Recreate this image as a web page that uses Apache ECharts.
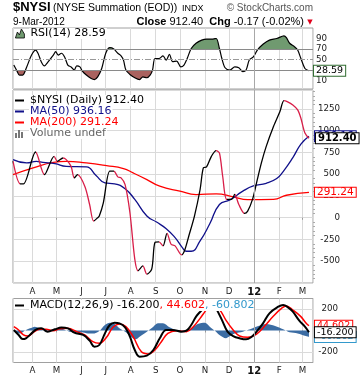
<!DOCTYPE html>
<html><head><meta charset="utf-8">
<script src="https://cdn.jsdelivr.net/npm/echarts@6/dist/echarts.min.js"></script>
<style>html,body{margin:0;padding:0;background:#fff}#c{width:360px;height:381px}</style>
</head><body><div id="c"></div>
<script>
// ---------- DATA ----------
const xStart = '2011-03-08';
const xEnd = '2012-03-14';

const nysiDates = ['2011-03-08','2011-03-17','2011-03-21','2011-04-05','2011-04-16','2011-04-28','2011-05-02','2011-05-09','2011-05-13','2011-05-19','2011-05-23','2011-05-27','2011-06-05','2011-06-11','2011-06-16','2011-06-21','2011-06-23','2011-06-28','2011-07-06','2011-07-11','2011-07-16','2011-07-20','2011-07-25','2011-07-31','2011-08-06','2011-08-10','2011-08-16','2011-08-21','2011-08-27','2011-08-31','2011-09-05','2011-09-10','2011-09-15','2011-09-20','2011-09-25','2011-10-03','2011-10-07','2011-10-12','2011-10-19','2011-10-26','2011-10-30','2011-11-03','2011-11-09','2011-11-15','2011-11-19','2011-11-23','2011-11-28','2011-12-04','2011-12-08','2011-12-13','2011-12-20','2011-12-24','2011-12-30','2012-01-04','2012-01-10','2012-01-16','2012-01-25','2012-02-02','2012-02-07','2012-02-11','2012-02-18','2012-02-24','2012-02-28','2012-03-04','2012-03-09'];
const nysiValues = [650,389,389,755,495,705,648,686,667,590,457,495,362,152,-38,0,19,171,534,534,469,457,381,57,-476,-610,-553,-648,-591,-286,-278,-324,-179,-305,-324,-427,-370,-210,19,324,572,583,705,770,743,476,210,210,267,152,50,76,210,400,629,819,1048,1220,1345,1334,1296,1239,1143,972,912.40];

const ma50Dates = ['2011-03-08','2011-03-25','2011-04-06','2011-04-14','2011-04-29','2011-05-13','2011-06-07','2011-06-19','2011-06-30','2011-07-12','2011-07-25','2011-08-06','2011-08-21','2011-09-02','2011-09-14','2011-09-25','2011-10-04','2011-10-09','2011-10-15','2011-10-26','2011-11-07','2011-11-19','2011-12-02','2011-12-18','2011-12-31','2012-01-16','2012-01-29','2012-02-06','2012-02-18','2012-02-28','2012-03-09'];
const ma50Values = [667,629,648,636,621,590,583,484,400,389,332,210,19,-50,-126,-229,-343,-385,-385,-267,-70,152,205,305,365,395,450,530,690,845,936.16];

const ma200Dates = ['2011-03-08','2011-04-02','2011-04-27','2011-05-13','2011-06-07','2011-07-02','2011-07-23','2011-08-04','2011-08-21','2011-09-06','2011-10-01','2011-10-21','2011-11-15','2011-12-06','2011-12-24','2012-01-25','2012-02-10','2012-03-09'];
const ma200Values = [495,572,636,648,629,598,564,514,438,362,305,266,274,240,208,210,258,291.24];

const rsiDates = ['2011-03-09','2011-03-13','2011-03-16','2011-03-20','2011-03-25','2011-03-31','2011-04-05','2011-04-08','2011-04-12','2011-04-16','2011-04-20','2011-04-27','2011-04-30','2011-05-03','2011-05-07','2011-05-11','2011-05-15','2011-05-19','2011-05-23','2011-05-26','2011-05-30','2011-06-02','2011-06-07','2011-06-13','2011-06-17','2011-06-21','2011-06-26','2011-07-01','2011-07-06','2011-07-11','2011-07-16','2011-07-20','2011-07-23','2011-07-26','2011-07-31','2011-08-06','2011-08-12','2011-08-16','2011-08-21','2011-08-25','2011-08-28','2011-08-31','2011-09-05','2011-09-10','2011-09-14','2011-09-18','2011-09-22','2011-09-27','2011-10-02','2011-10-06','2011-10-10','2011-10-15','2011-10-21','2011-10-28','2011-11-03','2011-11-11','2011-11-15','2011-11-19','2011-11-22','2011-11-26','2011-12-02','2011-12-08','2011-12-13','2011-12-18','2011-12-22','2011-12-26','2011-12-31','2012-01-05','2012-01-12','2012-01-20','2012-01-29','2012-02-07','2012-02-10','2012-02-14','2012-02-20','2012-02-24','2012-02-28','2012-03-04','2012-03-09'];
const rsiValues = [39.5,28,20.5,20.5,36,58.6,68,62,46,38,44.6,58.6,65,58.6,62,55,39.5,36,30,38,36,28,20.5,14,12,17,33,62,72.5,70,62,57,49,30,21.7,15.4,12,17,15.4,20.5,30,52,52,57,49,60,46,47,36,39.5,52,71,81,87,89,89,90,71,52,34.4,30,36,34.4,27,30,49,55,68,79,87,90,95,91.6,81,74.4,68,52,33,28.59];
const rsiTicks = [10,30,50,70,90];

const macdDates = ['2011-03-09','2011-03-15','2011-03-20','2011-03-24','2011-03-31','2011-04-06','2011-04-12','2011-04-20','2011-04-29','2011-05-07','2011-05-15','2011-05-23','2011-06-03','2011-06-11','2011-06-17','2011-06-23','2011-06-30','2011-07-06','2011-07-12','2011-07-18','2011-07-25','2011-07-31','2011-08-06','2011-08-12','2011-08-21','2011-08-29','2011-09-06','2011-09-14','2011-09-22','2011-10-03','2011-10-09','2011-10-15','2011-10-21','2011-10-28','2011-11-05','2011-11-11','2011-11-17','2011-11-23','2011-11-29','2011-12-06','2011-12-14','2011-12-22','2011-12-29','2012-01-04','2012-01-12','2012-01-20','2012-01-31','2012-02-06','2012-02-12','2012-02-18','2012-02-26','2012-03-04','2012-03-09'];
const macdValues = [5,-42,-80,-73,-27,11,20,-11,11,27,20,-20,-42,-95,-152,-136,-27,52,73,67,30,-58,-183,-245,-236,-183,-73,5,5,-11,-2,52,130,192,270,260,177,83,-11,-52,-73,-83,-58,-11,67,161,223,239,217,177,92,36,-16.2];

const sigDates = ['2011-03-09','2011-03-15','2011-03-21','2011-03-27','2011-04-02','2011-04-10','2011-04-18','2011-04-27','2011-05-05','2011-05-15','2011-05-26','2011-06-05','2011-06-15','2011-06-23','2011-07-02','2011-07-10','2011-07-18','2011-07-26','2011-08-04','2011-08-14','2011-08-23','2011-08-31','2011-09-08','2011-09-16','2011-09-27','2011-10-09','2011-10-17','2011-10-26','2011-11-01','2011-11-09','2011-11-14','2011-11-21','2011-11-27','2011-12-06','2011-12-14','2011-12-24','2012-01-04','2012-01-14','2012-01-25','2012-02-04','2012-02-10','2012-02-18','2012-02-28','2012-03-05','2012-03-09'];
const sigValues = [36,5,-42,-52,-20,11,11,-2,17,20,-11,-42,-105,-120,-64,30,61,36,-58,-198,-220,-183,-105,-27,-2,-11,30,114,177,255,240,177,98,5,-52,-64,-33,42,136,208,230,192,130,73,44.602];

const histDates = ['2011-03-09','2011-03-17','2011-03-23','2011-03-29','2011-04-04','2011-04-10','2011-04-18','2011-04-27','2011-05-05','2011-05-13','2011-05-21','2011-06-01','2011-06-09','2011-06-17','2011-06-23','2011-06-30','2011-07-06','2011-07-12','2011-07-18','2011-07-26','2011-08-01','2011-08-07','2011-08-12','2011-08-21','2011-08-29','2011-09-04','2011-09-10','2011-09-18','2011-09-27','2011-10-07','2011-10-15','2011-10-23','2011-11-01','2011-11-07','2011-11-13','2011-11-19','2011-11-27','2011-12-02','2011-12-08','2011-12-18','2011-12-27','2012-01-06','2012-01-16','2012-01-27','2012-02-06','2012-02-14','2012-02-24','2012-03-05','2012-03-09'];
const histValues = [-11,-27,0,20,36,20,-11,11,20,0,-17,-17,-27,-27,-5,52,73,61,20,-17,-58,-83,-58,-11,36,67,67,30,0,-11,20,61,73,36,0,-42,-73,-52,-27,-11,11,42,61,42,11,-17,-27,-52,-60.802];
const macdTicks = [-200,200];

const monthLetters = ['J','F','M','A','M','J','J','A','S','O','N','D'];

// ---------- helpers ----------
function ts(s){ const p = s.split('-').map(Number); return new Date(p[0], p[1]-1, p[2]).getTime(); }
function pairs(d, v){ return d.map((s,i)=>[ts(s), v[i]]); }

const UP = '#000000', DOWN = '#d81e48';
const nysiPieces = [];
for (let i = 0; i < nysiDates.length - 1; i++) {
  nysiPieces.push({ gte: ts(nysiDates[i]), lt: ts(nysiDates[i+1]), color: nysiValues[i+1] >= nysiValues[i] ? UP : DOWN });
}

const GRID = '#dadada', BORDER = '#a0a0a0';
const FONT = '"DejaVu Sans", Verdana, sans-serif';
const AFONT = '"Liberation Sans", Arial, sans-serif';
const yearLine = ts('2012-01-01');

function xAxisCfg(idx, showLabels) {
  return {
    type: 'time', gridIndex: idx, min: ts(xStart), max: ts(xEnd), splitNumber: 12,
    axisLine: { show: false },
    axisTick: { show: showLabels, length: 2, lineStyle: { color: '#999' } },
    splitLine: { show: true, lineStyle: { color: GRID, width: 1 } },
    axisLabel: {
      show: showLabels, margin: 4, color: '#222', fontFamily: FONT, fontSize: 8.7,
      showMinLabel: false, showMaxLabel: false,
      formatter: function (v) {
        const d = new Date(v);
        if (d.getDate() !== 1) return '';
        const m = d.getMonth();
        if (m === 0) return '{y|' + String(d.getFullYear()).slice(2) + '}';
        return monthLetters[m];
      },
      rich: { y: { fontWeight: 'bold', fontSize: 10, fontFamily: FONT, color: '#111' } }
    }
  };
}

function tag(text, color, extra) {
  return Object.assign({
    show: true, formatter: text, distance: 6, color: color, fontFamily: FONT, fontSize: 9.5,
    backgroundColor: '#fff', borderColor: color, borderWidth: 1, padding: [0, 2, 0, 2], lineHeight: 10
  }, extra || {});
}

const vLine = { xAxis: yearLine, lineStyle: { color: '#a8a8a8', type: 'solid', width: 1 } };
const mlBase = { silent: true, symbol: 'none', label: { show: false }, animation: false };

const option = {
  animation: false,
  backgroundColor: '#fff',
  grid: [
    { left: 13, right: 47, top: 28, height: 61, show: true, borderColor: BORDER, borderWidth: 1, backgroundColor: 'transparent' },
    { left: 13, right: 47, top: 90, height: 193, show: true, borderColor: BORDER, borderWidth: 1, backgroundColor: 'transparent' },
    { left: 13, right: 47, top: 298.5, height: 64, show: true, borderColor: BORDER, borderWidth: 1, backgroundColor: 'transparent' }
  ],
  xAxis: [ xAxisCfg(0, false), xAxisCfg(1, true), xAxisCfg(2, true) ],
  yAxis: [
    { type: 'value', gridIndex: 0, position: 'right', min: -6, max: 110,
      splitLine: { show: false }, axisLine: { show: false },
      axisTick: { show: false, customValues: rsiTicks },
      axisLabel: { customValues: rsiTicks, align: 'right', margin: 14, color: '#222', fontFamily: FONT, fontSize: 8.7 } },
    { type: 'value', gridIndex: 1, position: 'right', min: -750, max: 1467, interval: 250,
      splitLine: { show: true, lineStyle: { color: GRID } }, axisLine: { show: false },
      axisTick: { show: false },
      minorTick: { show: true, splitNumber: 5, length: 2, lineStyle: { color: '#aaa' } },
      axisLabel: { align: 'right', margin: 27, color: '#222', fontFamily: FONT, fontSize: 8.7,
        showMaxLabel: false,
        formatter: function (v) { return (v < -500 || v > 1250 || v % 250 !== 0) ? '' : String(v); } } },
    { type: 'value', gridIndex: 2, position: 'right', min: -300, max: 300,
      splitLine: { show: true, lineStyle: { color: GRID } }, axisLine: { show: false },
      axisTick: { show: false, customValues: macdTicks },
      axisLabel: { customValues: macdTicks, align: 'right', margin: 25, color: '#222', fontFamily: FONT, fontSize: 8.7 } }
  ],
  visualMap: [
    { type: 'piecewise', show: false, seriesIndex: 0, dimension: 1,
      pieces: [ { lt: 30, color: '#a9625f' }, { gte: 30, lte: 70, color: 'rgba(255,255,255,0)' }, { gt: 70, color: '#709a70' } ] },
    { type: 'piecewise', show: false, seriesIndex: 4, dimension: 0, pieces: nysiPieces, outOfRange: { color: UP } }
  ],
  legend: [
    { left: 15, top: 28, padding: 0, itemGap: 0, itemWidth: 9, itemHeight: 9, selectedMode: false,
      textStyle: { fontFamily: FONT, fontSize: 11, color: '#000', backgroundColor: '#fff', padding: [0, 1], lineHeight: 11 },
      data: [ { name: 'RSI(14) 28.59', icon: 'path://M0,9L2,3L4,6L6,0L9,5L9,9Z', itemStyle: { color: '#709a70', borderColor: '#000', borderWidth: 0.8 } } ] },
    { orient: 'vertical', left: 15, top: 95, padding: 0, itemGap: 0, itemWidth: 9, itemHeight: 9, selectedMode: false,
      textStyle: { fontFamily: FONT, fontSize: 11, backgroundColor: '#fff', padding: [0, 1], lineHeight: 10.8 },
      data: [
        { name: '$NYSI (Daily) 912.40', icon: 'path://M0,0H0.01V0.01H0ZM0,3.5H9V5.5H0ZM8.99,8.99H9V9H8.99Z', itemStyle: { color: '#000' }, textStyle: { color: '#000' } },
        { name: 'MA(50) 936.16', icon: 'path://M0,0H0.01V0.01H0ZM0,3.5H9V5.5H0ZM8.99,8.99H9V9H8.99Z', itemStyle: { color: '#10108a' }, textStyle: { color: '#10108a' } },
        { name: 'MA(200) 291.24', icon: 'path://M0,0H0.01V0.01H0ZM0,3.5H9V5.5H0ZM8.99,8.99H9V9H8.99Z', itemStyle: { color: '#ff0000' }, textStyle: { color: '#ff0000' } },
        { name: 'Volume undef', icon: 'path://M0,9V4H2V9ZM3,9V1H5V9ZM6,9V3H8V9ZM8.99,0H9V0.01H8.99Z', itemStyle: { color: '#777' }, textStyle: { color: '#666' } }
      ] },
    { left: 15, top: 300, padding: 0, itemGap: 0, itemWidth: 9, itemHeight: 9, selectedMode: false,
      textStyle: { fontFamily: FONT, fontSize: 11, color: '#000', backgroundColor: '#fff', padding: [0, 1], lineHeight: 11,
        rich: { a: { color: '#000', fontFamily: FONT, fontSize: 11 }, b: { color: '#ff0000', fontFamily: FONT, fontSize: 11 }, c: { color: '#3399cc', fontFamily: FONT, fontSize: 11 } } },
      formatter: function () { return '{a|MACD(12,26,9) -16.200}{b|, 44.602}{c|, -60.802}'; },
      data: [ { name: 'MACD', icon: 'path://M0,0H0.01V0.01H0ZM0,3.5H9V5.5H0ZM8.99,8.99H9V9H8.99Z', itemStyle: { color: '#000' } } ] }
  ],
  series: [
    { name: 'RSI fill', type: 'line', xAxisIndex: 0, yAxisIndex: 0, data: pairs(rsiDates, rsiValues),
      showSymbol: false, smooth: 0.3, lineStyle: { width: 0, opacity: 0 }, areaStyle: { origin: 70, opacity: 1 }, z: 1, silent: true },
    { name: 'RSI(14) 28.59', type: 'line', xAxisIndex: 0, yAxisIndex: 0, data: pairs(rsiDates, rsiValues),
      showSymbol: false, smooth: 0.3, color: '#000', lineStyle: { color: '#000', width: 1.2 }, z: 3,
      endLabel: tag('28.59', '#000', { borderColor: '#2f6b2f', distance: 5 }),
      markLine: Object.assign({}, mlBase, { data: [
        { yAxis: 70, lineStyle: { color: '#8a8a8a', type: 'solid', width: 1.2 } },
        { yAxis: 30, lineStyle: { color: '#8a8a8a', type: 'solid', width: 1.2 } },
        { yAxis: 50, lineStyle: { color: '#999', type: [6, 2, 1, 2], width: 1 } },
        vLine ] }) },
    { name: 'MA(200) 291.24', type: 'line', xAxisIndex: 1, yAxisIndex: 1, data: pairs(ma200Dates, ma200Values),
      showSymbol: false, smooth: 0.5, color: '#ff0000', lineStyle: { color: '#ff0000', width: 1.3 }, z: 2,
      endLabel: tag('291.24', '#ff0000', { fontSize: 10.5, lineHeight: 9 }),
      markLine: Object.assign({}, mlBase, { data: [ vLine ] }) },
    { name: 'MA(50) 936.16', type: 'line', xAxisIndex: 1, yAxisIndex: 1, data: pairs(ma50Dates, ma50Values),
      showSymbol: false, smooth: 0.5, color: '#10108a', lineStyle: { color: '#10108a', width: 1.3 }, z: 3,
      endLabel: tag('936.16', '#10108a', { fontSize: 10.5, lineHeight: 10 }) },
    { name: '$NYSI (Daily) 912.40', type: 'line', xAxisIndex: 1, yAxisIndex: 1, data: pairs(nysiDates, nysiValues),
      showSymbol: false, smooth: 0.3, color: '#000', lineStyle: { width: 1.3 }, z: 4,
      endLabel: tag('912.40', '#000', { fontSize: 10, fontWeight: 'bold', lineHeight: 10, distance: 7 }) },
    { name: 'Volume undef', type: 'line', xAxisIndex: 1, yAxisIndex: 1, data: [], color: '#777' },
    { name: 'Histogram', type: 'line', xAxisIndex: 2, yAxisIndex: 2, data: pairs(histDates, histValues),
      showSymbol: false, smooth: 0.3, color: '#3b6ca3', lineStyle: { width: 0, opacity: 0 }, areaStyle: { color: '#3b6ca3', opacity: 1 }, z: 1,
      endLabel: tag('-60.802', '#3399cc'),
      markLine: Object.assign({}, mlBase, { data: [ vLine ] }) },
    { name: 'Signal', type: 'line', xAxisIndex: 2, yAxisIndex: 2, data: pairs(sigDates, sigValues),
      showSymbol: false, smooth: 0.4, color: '#ff0000', lineStyle: { color: '#ff0000', width: 1.5 }, z: 2,
      endLabel: tag('44.602', '#ff0000') },
    { name: 'MACD', type: 'line', xAxisIndex: 2, yAxisIndex: 2, data: pairs(macdDates, macdValues),
      showSymbol: false, smooth: 0.4, color: '#000', lineStyle: { color: '#000', width: 2 }, z: 3,
      endLabel: tag('-16.200', '#000') }
  ],
  graphic: [
    { type: 'text', x: 13, y: 7.5, style: { text: '$NYSI', fontFamily: AFONT, fontSize: 13, fontWeight: 'bold', fill: '#000', verticalAlign: 'middle', textVerticalAlign: 'middle' } },
    { type: 'text', x: 53, y: 8, style: { text: '(NYSE Summation (EOD))', fontFamily: AFONT, fontSize: 10.5, fill: '#000', verticalAlign: 'middle', textVerticalAlign: 'middle' } },
    { type: 'text', x: 182, y: 8.3, style: { text: 'INDX', fontFamily: AFONT, fontSize: 9, fill: '#000', verticalAlign: 'middle', textVerticalAlign: 'middle' } },
    { type: 'text', x: 313, y: 8, style: { text: '\u00a9 StockCharts.com', fontFamily: AFONT, fontSize: 10, fill: '#555', align: 'right', textAlign: 'right', verticalAlign: 'middle', textVerticalAlign: 'middle' } },
    { type: 'text', x: 13, y: 22.3, style: { text: '9-Mar-2012', fontFamily: AFONT, fontSize: 10, fill: '#000', verticalAlign: 'middle', textVerticalAlign: 'middle' } },
    { type: 'text', x: 304, y: 22.3, style: { text: '{b|Close} 912.40  {b|Chg} -0.17 (-0.02%)', fontFamily: AFONT, fontSize: 11, fill: '#000', align: 'right', textAlign: 'right', verticalAlign: 'middle', textVerticalAlign: 'middle',
      rich: { b: { fontFamily: AFONT, fontSize: 11, fontWeight: 'bold', fill: '#000' } } } },
    { type: 'text', x: 310, y: 22.5, style: { text: '\u25bc', fontFamily: FONT, fontSize: 7, fill: '#e0001b', align: 'center', textAlign: 'center', verticalAlign: 'middle', textVerticalAlign: 'middle' } }
  ]
};

const chart = echarts.init(document.getElementById('c'), null, { renderer: 'canvas' });
chart.setOption(option);
</script>
</body></html>
